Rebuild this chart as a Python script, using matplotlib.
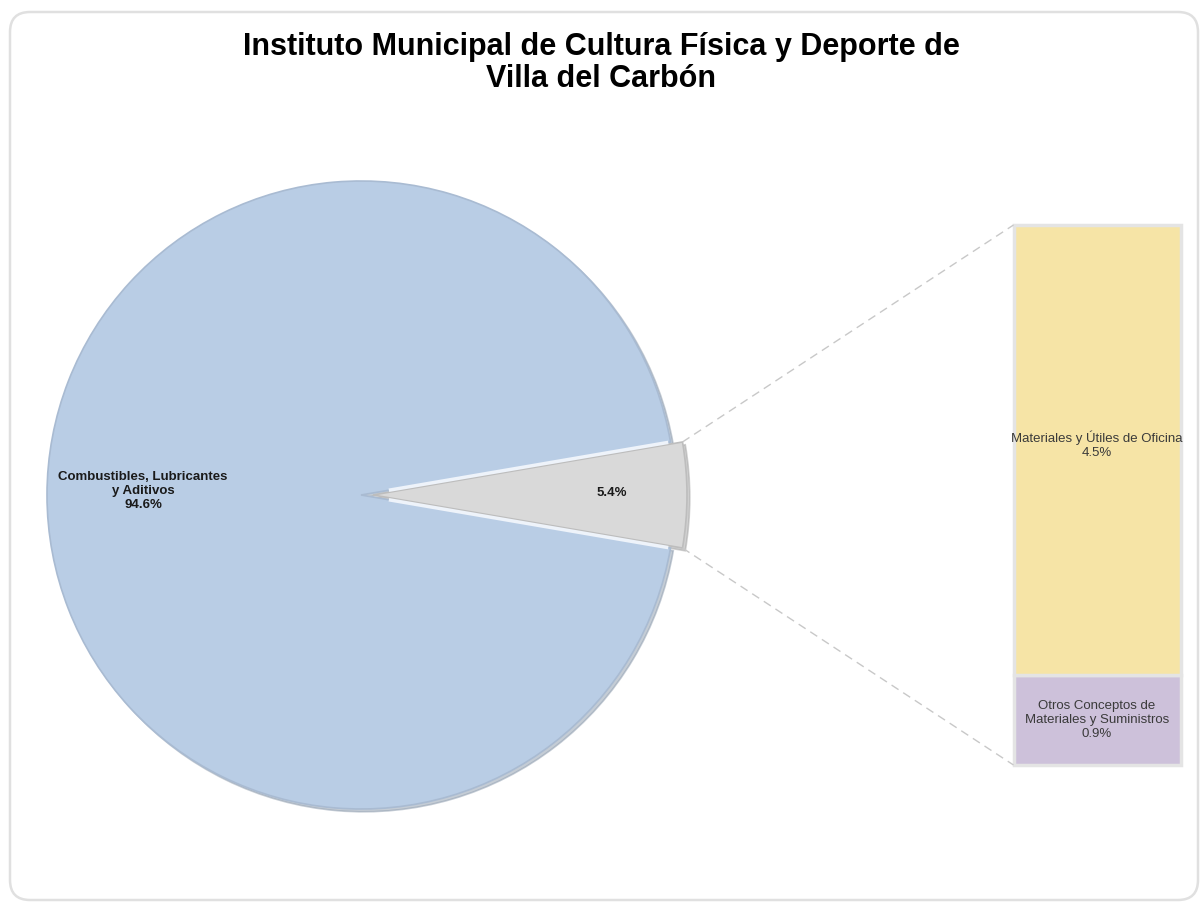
import numpy as np
import matplotlib.pyplot as plt
from matplotlib.patches import FancyBboxPatch
from matplotlib import font_manager

# Data
pie_labels = ['Otros', 'Combustibles, Lubricantes\ny Aditivos']
pie_values = [5.4, 94.6]
bar_labels = ['Otros Conceptos de\nMateriales y Suministros', 'Materiales y Útiles de Oficina']
bar_values = [0.9, 4.5]
title = 'Instituto Municipal de Cultura Física y Deporte de\nVilla del Carbón'

names = {f.name for f in font_manager.fontManager.ttflist}
narrow = 'Liberation Sans Narrow' if 'Liberation Sans Narrow' in names else 'Liberation Sans'

W, H = 1202, 906
fig = plt.figure(figsize=(W / 100, H / 100), dpi=100)
ax = fig.add_axes([0, 0, 1, 1])
ax.axis('off')

# Rounded frame around the chart
frame = FancyBboxPatch((10, 6), W - 14, H - 18, boxstyle='round,pad=0,rounding_size=20',
                       fc='white', ec='#e0e0e0', lw=1.8, zorder=0)
ax.add_patch(frame)

# Pie
cx, cy, r = 361, H - 495, 314
span = pie_values[0] / sum(pie_values) * 360
wedges, _ = ax.pie(pie_values, colors=['#d9d9d9', '#b9cde5'], startangle=-span / 2,
                   center=(cx, cy), radius=r, explode=[12, 0],
                   shadow={'ox': 2, 'oy': -2, 'shade': 0.25},
                   wedgeprops=dict(edgecolor='#a9bbd2', linewidth=1.2))
wedges[0].set_edgecolor('#bdbdbd')
ax.set_xlim(0, W)
ax.set_ylim(0, H)
ax.set_aspect('equal')

# light bevel lines along the cut of the big slice
wb = wedges[1]
for ang in (wb.theta1, wb.theta2):
    a = np.deg2rad(ang)
    ax.plot([cx + 30 * np.cos(a), cx + (r - 4) * np.cos(a)],
            [cy + 30 * np.sin(a), cy + (r - 4) * np.sin(a)], color='#eef3fa', lw=2.5, zorder=2)

ax.text(143, H - 491, f'{pie_labels[1]}\n{pie_values[1]:.1f}%', ha='center', va='center',
        fontsize=9.5, fontweight='bold', family=narrow, color='#1a1a1a', linespacing=1.2)
ax.text(612, H - 493, f'{pie_values[0]:.1f}%', ha='center', va='center',
        fontsize=9.5, fontweight='bold', family=narrow, color='#1a1a1a')

# Stacked bar
scale = 100.0
bx, bw, bbottom = 1097, 167, H - 765
bottom = bbottom
bar_colors = ['#cdc1da', '#f6e4a6']
for lab, val, col in zip(bar_labels, bar_values, bar_colors):
    h = val * scale
    ax.bar(bx, h, width=bw, bottom=bottom, color=col, edgecolor='#e4e4e4', linewidth=2.5)
    bottom += h

ax.text(bx, H - 445, f'{bar_labels[1]}\n{bar_values[1]:.1f}%', ha='center', va='center',
        fontsize=9.5, family=narrow, color='#3a3a3a', linespacing=1.25)
ax.text(bx, H - 720, f'{bar_labels[0]}\n{bar_values[0]:.1f}%', ha='center', va='center',
        fontsize=9.5, family=narrow, color='#3a3a3a', linespacing=1.25)

# Connector lines from the small slice to the bar
w = wedges[0]
wc = np.array(w.center)
for ang, ty in [(w.theta2, bottom), (w.theta1, bbottom)]:
    p = wc + w.r * np.array([np.cos(np.deg2rad(ang)), np.sin(np.deg2rad(ang))])
    ax.plot([p[0], bx - bw / 2], [p[1], ty], ls=(0, (6, 4)), color='#c8c8c8', lw=1)

fig.text(0.5, 1 - 63 / H, title, ha='center', va='center', fontsize=22,
         fontweight='bold', family='Liberation Sans', color='black', linespacing=1.05)

fig.savefig('out.png', dpi=100)
